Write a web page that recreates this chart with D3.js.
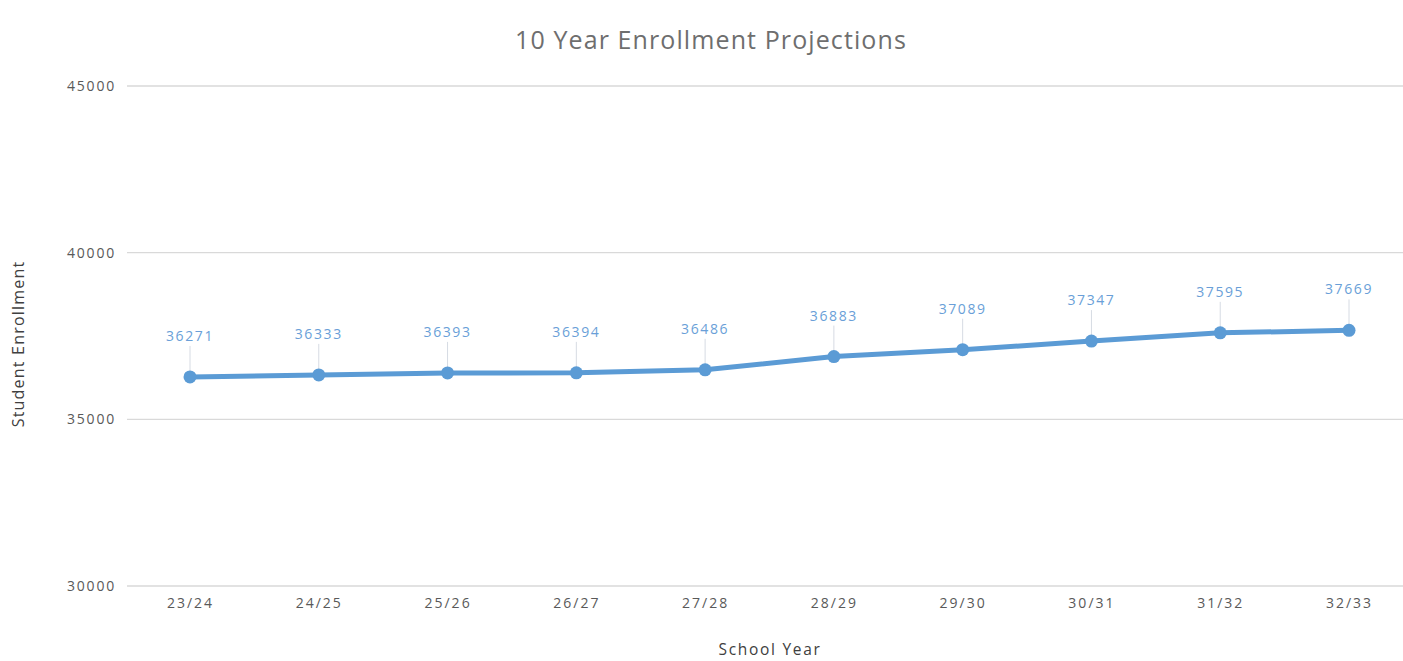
<!DOCTYPE html>
<html>
<head>
<meta charset="utf-8">
<script src="https://cdn.jsdelivr.net/npm/d3@7"></script>
<style>
  html, body { margin: 0; padding: 0; background: #ffffff; }
  svg { display: block; }
  text { font-family: "Open Sans", "Noto Sans", sans-serif; }
</style>
</head>
<body>
<svg id="chart" width="1403" height="661"></svg>
<script>
const categories = ["23/24", "24/25", "25/26", "26/27", "27/28", "28/29", "29/30", "30/31", "31/32", "32/33"];
const enrollment = [36271, 36333, 36393, 36394, 36486, 36883, 37089, 37347, 37595, 37669];
const yTicks = [30000, 35000, 40000, 45000];
const chartTitle = "10 Year Enrollment Projections";
const xTitle = "School Year";
const yTitle = "Student Enrollment";

const W = 1403, H = 661;
const plot = { left: 127, right: 1403, top: 86, bottom: 586 };
const svg = d3.select("#chart");

const x = d3.scalePoint().domain(categories).range([190, 1349]);
const y = d3.scaleLinear().domain([30000, 45000]).range([plot.bottom, plot.top]);

// gridlines
svg.append("g").selectAll("line").data(yTicks).join("line")
  .attr("x1", plot.left).attr("x2", plot.right)
  .attr("y1", d => y(d)).attr("y2", d => y(d))
  .attr("stroke", "#d9d9d9").attr("stroke-width", 1.3);

// y axis labels
const yAxis = d3.axisLeft(y).tickValues(yTicks).tickSize(0).tickPadding(11).tickFormat(d3.format("d"));
const yg = svg.append("g").attr("transform", `translate(${plot.left},0)`).call(yAxis);
yg.select(".domain").remove();
yg.selectAll("text").attr("fill", "#595959").attr("font-size", 14).attr("font-family", null).style("letter-spacing", "1.8px");

// x axis labels
const xAxis = d3.axisBottom(x).tickSize(0).tickPadding(12);
const xg = svg.append("g").attr("transform", `translate(0,${plot.bottom})`).call(xAxis);
xg.select(".domain").remove();
xg.selectAll("text").attr("fill", "#595959").attr("font-size", 14).attr("font-family", null).style("letter-spacing", "2px");

// title
svg.append("text").attr("x", 711).attr("y", 49).attr("text-anchor", "middle")
  .attr("fill", "#6e6e6e").attr("font-size", 25).style("letter-spacing", "1.1px").text(chartTitle);

// axis titles
svg.append("text").attr("x", 770).attr("y", 655).attr("text-anchor", "middle")
  .attr("fill", "#404040").attr("font-size", 15.5).style("letter-spacing", "1.7px").text(xTitle);
svg.append("text").attr("transform", "translate(24,344) rotate(-90)").attr("text-anchor", "middle")
  .attr("fill", "#404040").attr("font-size", 16).style("letter-spacing", "1.2px").text(yTitle);

const data = categories.map((c, i) => ({ c, v: enrollment[i] }));

// leader lines
svg.append("g").selectAll("line").data(data).join("line")
  .attr("x1", d => x(d.c)).attr("x2", d => x(d.c))
  .attr("y1", d => y(d.v) - 31).attr("y2", d => y(d.v) - 5)
  .attr("stroke", "#d6dbe3").attr("stroke-width", 1);

// line
svg.append("path").datum(data)
  .attr("fill", "none").attr("stroke", "#5b9bd5").attr("stroke-width", 5)
  .attr("stroke-linejoin", "round").attr("stroke-linecap", "round")
  .attr("d", d3.line().x(d => x(d.c)).y(d => y(d.v)));

// markers
svg.append("g").selectAll("circle").data(data).join("circle")
  .attr("cx", d => x(d.c)).attr("cy", d => y(d.v)).attr("r", 6.5)
  .attr("fill", "#5b9bd5");

// data labels
svg.append("g").selectAll("text").data(data).join("text")
  .attr("x", d => x(d.c)).attr("y", d => y(d.v) - 36)
  .attr("text-anchor", "middle").attr("fill", "#6a9fd8").attr("font-size", 14)
  .style("letter-spacing", "1.6px")
  .text(d => d.v);
</script>
</body>
</html>
